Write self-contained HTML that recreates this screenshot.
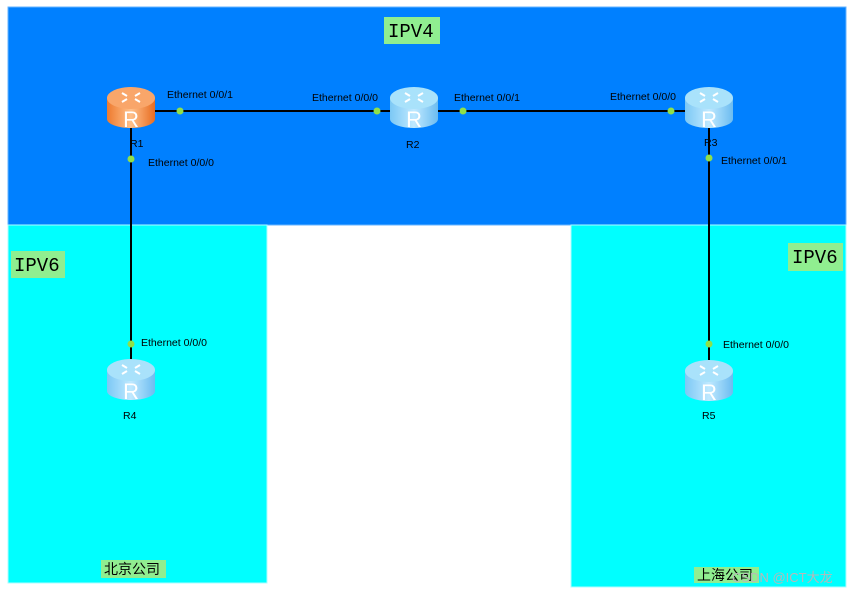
<!DOCTYPE html>
<html><head><meta charset="utf-8"><style>
html,body{margin:0;padding:0;background:#fff;width:854px;height:594px;overflow:hidden}
text{font-family:"Liberation Sans",sans-serif}
.lbl{font-size:10.5px;fill:#000}
.mono{font-family:"Liberation Mono","DejaVu Sans Mono",monospace;font-size:19px;fill:#000}
.cjk{font-family:"Liberation Sans","Noto Sans CJK SC",sans-serif;font-size:14px;fill:#000}
</style></head><body>
<svg width="854" height="594" viewBox="0 0 854 594" xmlns="http://www.w3.org/2000/svg">
<defs>
<linearGradient id="bl" x1="0" x2="1"><stop offset="0" stop-color="#7cc8f5"/><stop offset="0.5" stop-color="#bfe9ff"/><stop offset="1" stop-color="#6cbcf0"/></linearGradient>
<linearGradient id="or" x1="0" x2="1"><stop offset="0" stop-color="#ee7a2e"/><stop offset="0.5" stop-color="#ffc08a"/><stop offset="1" stop-color="#e86c20"/></linearGradient>
<g id="rb">
<path d="M-24,-9 L-24,12 A24,9 0 0 0 24,12 L24,-9 Z" fill="url(#bl)"/>
<ellipse cx="0" cy="-9" rx="24" ry="11" fill="#a9e2fb"/>
<path d="M-9,-14 l5,3 M9,-14 l-5,3 M-9,-5 l5,-3 M9,-5 l-5,-3" stroke="#fff" stroke-width="2"/>
<text x="0" y="20" text-anchor="middle" font-size="22" fill="#fff">R</text>
</g>
<g id="ro">
<path d="M-24,-9 L-24,12 A24,9 0 0 0 24,12 L24,-9 Z" fill="url(#or)"/>
<ellipse cx="0" cy="-9" rx="24" ry="11" fill="#f9a66a"/>
<path d="M-9,-14 l5,3 M9,-14 l-5,3 M-9,-5 l5,-3 M9,-5 l-5,-3" stroke="#fff" stroke-width="2"/>
<text x="0" y="20" text-anchor="middle" font-size="22" fill="#fff">R</text>
</g>
</defs>
<rect x="8" y="7" width="838" height="218" fill="#0080ff" stroke="#66b3ff"/>
<rect x="8" y="225" width="259" height="358" fill="#00ffff" stroke="#aefcff"/>
<rect x="571" y="225" width="275" height="362" fill="#00ffff" stroke="#aefcff"/>
<rect x="384" y="17" width="56" height="27" fill="#90ee90"/>
<text class="mono" x="388" y="37">IPV4</text>
<rect x="11" y="251" width="54" height="27" fill="#90ee90"/>
<text class="mono" x="14" y="271">IPV6</text>
<rect x="788" y="243" width="55" height="28" fill="#90ee90"/>
<text class="mono" x="792" y="263">IPV6</text>
<rect x="101" y="560" width="65" height="18" fill="#90ee90"/>
<text class="cjk" x="104" y="574">北京公司</text>
<rect x="694" y="567" width="65" height="16" fill="#90ee90"/>
<text class="cjk" x="697" y="580">上海公司</text>
<text x="732" y="582" font-size="13" fill="#b8b8b8">CSDN @ICT大龙</text>
<g stroke="#000" stroke-width="2">
<line x1="150" y1="111" x2="690" y2="111"/>
<line x1="131" y1="120" x2="131" y2="365"/>
<line x1="709" y1="120" x2="709" y2="360"/>
</g>
<g fill="#8fe04a">
<circle cx="180" cy="111" r="3.5"/><circle cx="377" cy="111" r="3.5"/><circle cx="463" cy="111" r="3.5"/><circle cx="671" cy="111" r="3.5"/>
<circle cx="131" cy="159" r="3.5"/><circle cx="709" cy="158" r="3.5"/><circle cx="131" cy="344" r="3.5"/><circle cx="709" cy="344" r="3.5"/>
</g>
<use href="#ro" x="131" y="107"/>
<use href="#rb" x="414" y="107"/>
<use href="#rb" x="709" y="107"/>
<use href="#rb" x="131" y="379"/>
<use href="#rb" x="709" y="380"/>
<text class="lbl" x="130" y="147">R1</text>
<text class="lbl" x="406" y="148">R2</text>
<text class="lbl" x="704" y="146">R3</text>
<text class="lbl" x="123" y="419">R4</text>
<text class="lbl" x="702" y="419">R5</text>
<text class="lbl" x="167" y="98">Ethernet 0/0/1</text>
<text class="lbl" x="312" y="101">Ethernet 0/0/0</text>
<text class="lbl" x="454" y="101">Ethernet 0/0/1</text>
<text class="lbl" x="610" y="100">Ethernet 0/0/0</text>
<text class="lbl" x="148" y="166">Ethernet 0/0/0</text>
<text class="lbl" x="721" y="164">Ethernet 0/0/1</text>
<text class="lbl" x="141" y="346">Ethernet 0/0/0</text>
<text class="lbl" x="723" y="348">Ethernet 0/0/0</text>
</svg>
</body></html>
